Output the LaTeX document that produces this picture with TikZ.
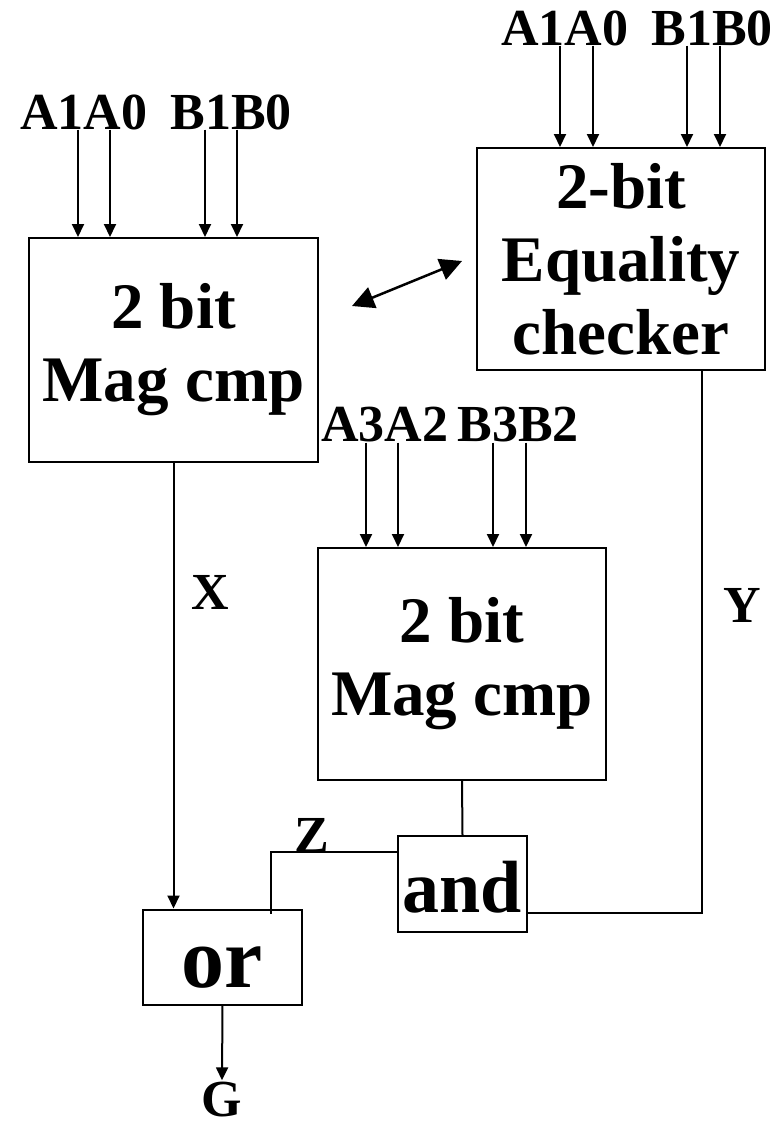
\documentclass[tikz,border=0pt]{standalone}
\usepackage{fontspec}
\setmainfont{Liberation Serif}
\usetikzlibrary{arrows.meta}

\begin{document}
\begin{tikzpicture}[
  x=1pt, y=-1pt,
  box/.style={draw, line width=2pt, align=center, inner sep=0pt,
    font=\fontsize{65}{73}\selectfont\bfseries},
  gate/.style={draw, line width=2pt, inner sep=0pt, text depth=0pt,
    font=\fontsize{74}{80}\selectfont\bfseries},
  lbl/.style={inner sep=0pt, font=\fontsize{52}{54}\selectfont\bfseries},
  wire/.style={line width=2pt},
  arrow/.style={wire, -{Triangle[length=13pt, width=12pt]}},
  swap/.style={line width=2.5pt, {Triangle[length=22pt, width=22pt]}-{Triangle[length=22pt, width=22pt]}}
]
\useasboundingbox (0,0) rectangle (777,1127);
% blocks
\node[box, minimum width=289pt, minimum height=224pt] (magA) at (173.5, 350) {2 bit\\Mag cmp};
\node[box, minimum width=288pt, minimum height=222pt] (eqc)  at (621, 259)   {2-bit\\Equality\\checker};
\node[box, minimum width=288pt, minimum height=232pt] (magB) at (462, 664)   {2 bit\\Mag cmp};
\node[gate, minimum width=129pt, minimum height=96pt, text height=56pt] (andG) at (462.5, 884) {and};
\node[gate, minimum width=159pt, minimum height=95pt, text height=60pt,
  font=\fontsize{86}{90}\selectfont\bfseries] (orG) at (222.5, 957) {or};
% input labels
\node[lbl] (inA1) at (84, 112)  {A1A0};
\node[lbl] (inB1) at (231, 112) {B1B0};
\node[lbl] (eqA)  at (565, 28)  {A1A0};
\node[lbl] (eqB)  at (712, 28)  {B1B0};
\node[lbl] (inA3) at (385, 425) {A3A2};
\node[lbl] (inB3) at (518, 425) {B3B2};
% signal labels
\node[lbl] (xlab) at (210, 592)  {X};
\node[lbl] (ylab) at (742, 605)  {Y};
\node[lbl] (zlab) at (312, 835)  {Z};
\node[lbl] (outG) at (222, 1100) {G};
% inputs
\foreach \x in {78,110}  \draw[arrow] (\x,0 |- inA1.south) -- (\x,0 |- magA.north);
\foreach \x in {205,237} \draw[arrow] (\x,0 |- inB1.south) -- (\x,0 |- magA.north);
\foreach \x in {560,593} \draw[arrow] (\x,0 |- eqA.south) -- (\x,0 |- eqc.north);
\foreach \x in {687,720} \draw[arrow] (\x,0 |- eqB.south) -- (\x,0 |- eqc.north);
\foreach \x in {366,398} \draw[arrow] (\x,0 |- inA3.south) -- (\x,0 |- magB.north);
\foreach \x in {493,526} \draw[arrow] (\x,0 |- inB3.south) -- (\x,0 |- magB.north);
% link between the two upper blocks
\coordinate (swapL) at (352, 306);
\coordinate (swapR) at (462, 261);
\draw[swap] (swapL) -- (swapR);
% outputs
\draw[arrow] (magA.south) -- (magA.south |- orG.north);
\draw[wire] (magB.south) -- (andG.north);
\draw[wire] ([xshift=81pt]eqc.south) |- ([yshift=-29pt]andG.east);
\draw[wire] ([yshift=32pt]andG.west) -| ([xshift=-32pt, yshift=-5pt]orG.north east);
\draw[arrow] (orG.south) -- ([yshift=2pt]outG.north);
\end{tikzpicture}
\end{document}
